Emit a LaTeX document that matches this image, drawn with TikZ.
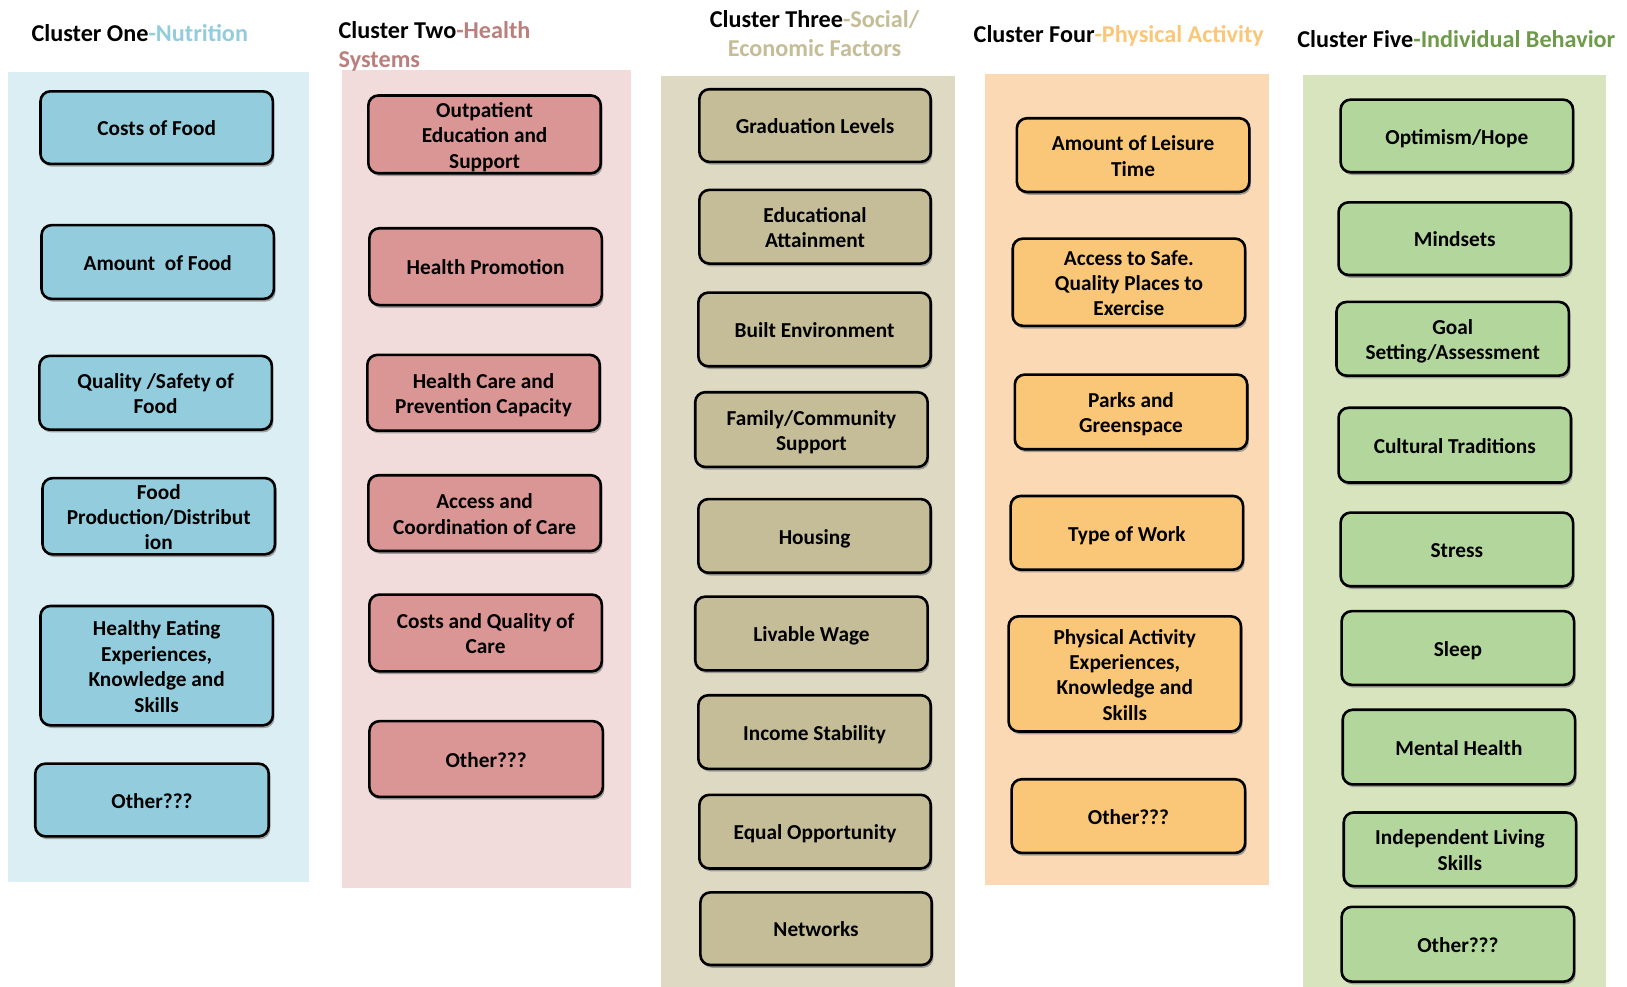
\documentclass[tikz,border=0pt]{standalone}
\usepackage{fontspec}
\setmainfont{Carlito}
\usetikzlibrary{shadows}
\definecolor{bgA}{HTML}{DBEEF3}\definecolor{bxA}{HTML}{93CDDD}\definecolor{tA}{HTML}{93CDDD}
\definecolor{bgB}{HTML}{F2DCDB}\definecolor{bxB}{HTML}{DA9694}\definecolor{tB}{HTML}{B9807E}
\definecolor{bgC}{HTML}{DDD9C3}\definecolor{bxC}{HTML}{C4BD97}\definecolor{tC}{HTML}{C4BD97}
\definecolor{bgD}{HTML}{FBD9B4}\definecolor{bxD}{HTML}{FAC778}\definecolor{tD}{HTML}{FAC778}
\definecolor{bgE}{HTML}{D8E4BD}\definecolor{bxE}{HTML}{B3D69C}\definecolor{tE}{HTML}{6E9A4A}
\tikzset{
  base/.style={draw=black, line width=1.3pt, rounded corners=5pt, align=center,
    font=\fontsize{10.65}{12.7}\selectfont\bfseries, inner sep=0pt,
    drop shadow={shadow xshift=0.8pt, shadow yshift=-1.4pt, fill=black!50, opacity=0.7}},
  bA/.style={base, fill=bxA}, bB/.style={base, fill=bxB}, bC/.style={base, fill=bxC},
  bD/.style={base, fill=bxD}, bE/.style={base, fill=bxE},
  ttl/.style={font=\fontsize{12.1}{14.5}\selectfont\bfseries, inner sep=0pt}
}
\newcommand{\bx}[7]{\node[#1, minimum width={(#5-#3)*0.5188}, minimum height={(#6-#4)*0.5188}] (#2) at ({(#3+#5)/2},{(#4+#6)/2}) {\raisebox{-1.6pt}[\height][\depth]{\begin{tabular}{@{}c@{}}#7\end{tabular}}};}
\begin{document}
\begin{tikzpicture}[x=0.5188pt, y=-0.5188pt]
\fill[white] (0,0) rectangle (1568,951);
\useasboundingbox (0,0) rectangle (1568,951);
% column backgrounds
\fill[bgA] (8,69) rectangle (298,850);
\fill[bgB] (330,67) rectangle (608,856);
\fill[bgC] (637,73) rectangle (920,951);
\fill[bgD] (949,71) rectangle (1223,853);
\fill[bgE] (1256,72) rectangle (1548,951);
% titles
\node[ttl, anchor=west] (t1) at (30,32) {Cluster One\textcolor{tA}{-Nutrition}};
\node[ttl, anchor=west, align=left] (t2) at (326,45) {Cluster Two\textcolor{tB}{-Health}\\\textcolor{tB}{Systems}};
\node[ttl, align=center] (t3) at (785,32.5) {Cluster Three\textcolor{tC}{-Social/}\\\textcolor{tC}{Economic Factors}};
\node[ttl, anchor=west] (t4) at (938,35) {Cluster Four\textcolor{tD}{-Physical Activity}};
\node[ttl, anchor=west] (t5) at (1250,38) {Cluster Five\textcolor{tE}{-Individual Behavior}};
% column 1
\bx{bA}{a1}{39}{88}{263}{158}{Costs of Food}
\bx{bA}{a2}{40}{217}{264}{288}{Amount\ \ of Food}
\bx{bA}{a3}{38}{343}{262}{414}{Quality /Safety of\\Food}
\bx{bA}{a4}{41}{462}{265}{533}{Food\\Production/Distribut\\ion}
\bx{bA}{a5}{39}{584}{263}{699}{Healthy Eating\\Experiences,\\Knowledge and\\Skills}
\bx{bA}{a6}{34}{736}{259}{806}{Other???}
% column 2
\bx{bB}{b1}{355}{92}{579}{167}{Outpatient\\Education and\\Support}
\bx{bB}{b2}{356}{220}{580}{294}{Health Promotion}
\bx{bB}{b3}{354}{342}{578}{415}{Health Care and\\Prevention Capacity}
\bx{bB}{b4}{355}{458}{579}{531}{Access and\\Coordination of Care}
\bx{bB}{b5}{356}{573}{580}{647}{Costs and Quality of\\Care}
\bx{bB}{b6}{356}{695}{581}{768}{Other???}
% column 3
\bx{bC}{c1}{674}{86}{897}{156}{Graduation Levels}
\bx{bC}{c2}{674}{183}{897}{254}{Educational\\Attainment}
\bx{bC}{c3}{673}{282}{897}{353}{Built Environment}
\bx{bC}{c4}{670}{378}{894}{450}{Family/Community\\Support}
\bx{bC}{c5}{673}{481}{897}{552}{Housing}
\bx{bC}{c6}{670}{575}{894}{646}{Livable Wage}
\bx{bC}{c7}{673}{670}{897}{741}{Income Stability}
\bx{bC}{c8}{674}{766}{897}{837}{Equal Opportunity}
\bx{bC}{c9}{675}{860}{898}{930}{Networks}
% column 4
\bx{bD}{d1}{980}{114}{1204}{185}{Amount of Leisure\\Time}
\bx{bD}{d2}{976}{230}{1200}{314}{Access to Safe.\\Quality Places to\\Exercise}
\bx{bD}{d3}{978}{361}{1202}{433}{Parks and\\Greenspace}
\bx{bD}{d4}{974}{478}{1198}{549}{Type of Work}
\bx{bD}{d5}{972}{594}{1196}{705}{Physical Activity\\Experiences,\\Knowledge and\\Skills}
\bx{bD}{d6}{975}{751}{1200}{822}{Other???}
% column 5
\bx{bE}{e1}{1292}{96}{1516}{166}{Optimism/Hope}
\bx{bE}{e2}{1290}{195}{1514}{265}{Mindsets}
\bx{bE}{e3}{1288}{291}{1512}{362}{Goal\\Setting/Assessment}
\bx{bE}{e4}{1290}{393}{1514}{465}{Cultural Traditions}
\bx{bE}{e5}{1292}{494}{1516}{565}{Stress}
\bx{bE}{e6}{1293}{589}{1517}{660}{Sleep}
\bx{bE}{e7}{1294}{684}{1518}{756}{Mental Health}
\bx{bE}{e8}{1295}{783}{1519}{854}{Independent Living\\Skills}
\bx{bE}{e9}{1293}{874}{1517}{946}{Other???}
\end{tikzpicture}
\end{document}
